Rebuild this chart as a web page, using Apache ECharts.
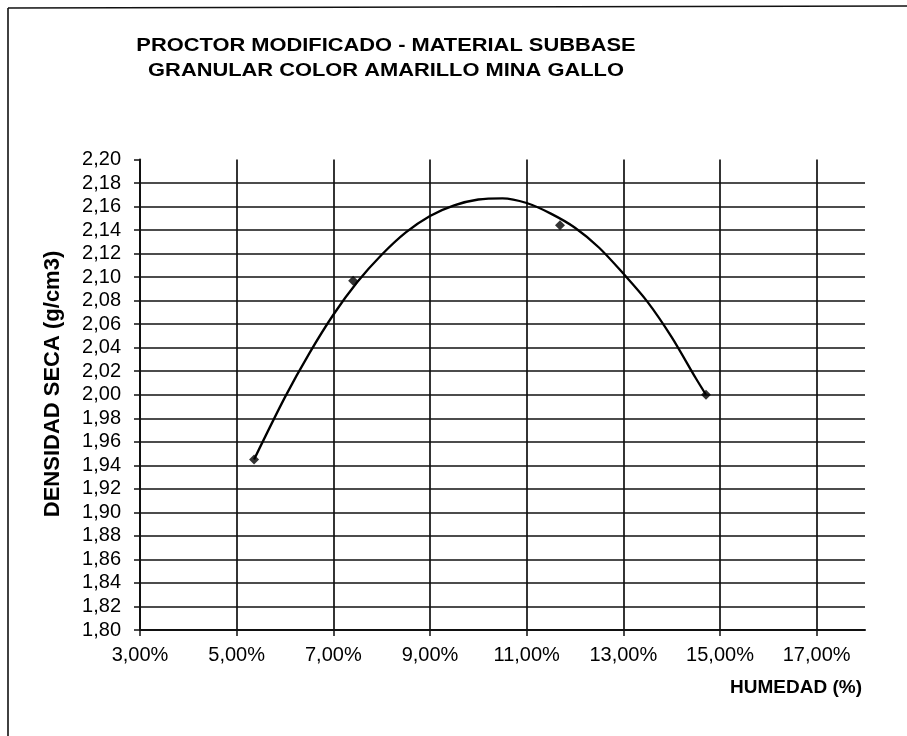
<!DOCTYPE html>
<html>
<head>
<meta charset="utf-8">
<script src="https://cdn.jsdelivr.net/npm/echarts@6/dist/echarts.min.js"></script>
<style>
  html, body { margin: 0; padding: 0; background: #fff; }
  #chart { width: 907px; height: 736px; }
</style>
</head>
<body>
<div id="chart"></div>
<script>
// Compaction test specimens: moisture content (%) and dry density (g/cm3)
const humedad = [5.36, 7.41, 11.69, 14.71];
const densidad = [1.945, 2.097, 2.144, 2.000];

// Compaction curve, sampled along its length
const curvaHumedad = [5.36, 6.0, 6.5, 7.0, 7.5, 8.0, 8.5, 9.0, 9.5, 10.0, 10.5, 11.0, 11.5, 12.0, 12.5, 13.0, 13.5, 14.0, 14.5, 14.71];
const curvaDensidad = [1.945, 1.998, 2.035, 2.068, 2.096, 2.119, 2.138, 2.152, 2.161, 2.166, 2.167, 2.163, 2.154, 2.142, 2.125, 2.103, 2.079, 2.049, 2.014, 2.000];

// Axis ticks
const xTicks = [3, 5, 7, 9, 11, 13, 15, 17];
const yTicks = [1.80, 1.82, 1.84, 1.86, 1.88, 1.90, 1.92, 1.94, 1.96, 1.98, 2.00,
                2.02, 2.04, 2.06, 2.08, 2.10, 2.12, 2.14, 2.16, 2.18, 2.20];

const titulo = 'PROCTOR MODIFICADO - MATERIAL SUBBASE\nGRANULAR COLOR AMARILLO MINA GALLO';
const nombreY = 'DENSIDAD SECA (g/cm3)';
const nombreX = 'HUMEDAD (%)';

const FONT = '"Liberation Sans", Arial, sans-serif';
const INK = '#111';

const chart = echarts.init(document.getElementById('chart'), null, { renderer: 'canvas' });

const pares = (xs, ys) => xs.map((x, i) => [x, ys[i]]);
const coma = (v, d) => v.toFixed(d).replace('.', ',');

chart.setOption({
  backgroundColor: '#fff',
  animation: false,
  grid: { left: 140, right: 42, top: 159.5, bottom: 106, containLabel: false },
  xAxis: {
    type: 'value',
    min: 3,
    max: 18,
    axisLine: { show: true, onZero: false, lineStyle: { color: INK, width: 2 } },
    axisTick: { show: true, length: 6, customValues: xTicks, lineStyle: { color: INK, width: 1.5 } },
    axisLabel: {
      customValues: xTicks,
      margin: 15,
      color: '#000',
      fontFamily: FONT,
      fontSize: 20,
      formatter: v => coma(v, 2) + '%'
    },
    splitLine: { show: true, showMinLine: false, lineStyle: { color: INK, width: 1.7 } }
  },
  yAxis: {
    type: 'value',
    min: 1.80,
    max: 2.20,
    axisLine: { show: true, onZero: false, lineStyle: { color: INK, width: 2 } },
    axisTick: { show: true, length: 6, customValues: yTicks, lineStyle: { color: INK, width: 1.5 } },
    axisLabel: {
      customValues: yTicks,
      margin: 19,
      color: '#000',
      fontFamily: FONT,
      fontSize: 20,
      formatter: v => coma(v, 2)
    },
    splitLine: { show: true, showMinLine: false, showMaxLine: false, lineStyle: { color: INK, width: 1.7 } }
  },
  series: [
    {
      name: 'curva',
      type: 'line',
      data: pares(curvaHumedad, curvaDensidad),
      smooth: 0.3,
      showSymbol: false,
      lineStyle: { color: '#000', width: 2.3 },
      z: 3
    },
    {
      name: 'ensayos',
      type: 'scatter',
      data: pares(humedad, densidad),
      symbol: 'diamond',
      symbolSize: 10,
      itemStyle: { color: '#000' },
      z: 4
    }
  ],
  graphic: [
    // frame
    { type: 'line', shape: { x1: 8, y1: 8, x2: 907, y2: 6 }, style: { stroke: INK, lineWidth: 1.6 } },
    { type: 'line', shape: { x1: 8, y1: 8, x2: 8, y2: 736 }, style: { stroke: INK, lineWidth: 1.6 } },
    {
      type: 'text', x: 386, y: 58, scaleX: 1.15,
      style: {
        text: titulo, fill: '#000', font: 'bold 19px ' + FONT,
        align: 'center', verticalAlign: 'middle', lineHeight: 25
      }
    },
    {
      type: 'text', x: 53, y: 384, rotation: Math.PI / 2,
      style: {
        text: nombreY, fill: '#000', font: 'bold 22px ' + FONT,
        align: 'center', verticalAlign: 'middle'
      }
    },
    {
      type: 'text', x: 862, y: 688,
      style: {
        text: nombreX, fill: '#000', font: 'bold 19px ' + FONT,
        align: 'right', verticalAlign: 'middle'
      }
    }
  ]
});
</script>
</body>
</html>
